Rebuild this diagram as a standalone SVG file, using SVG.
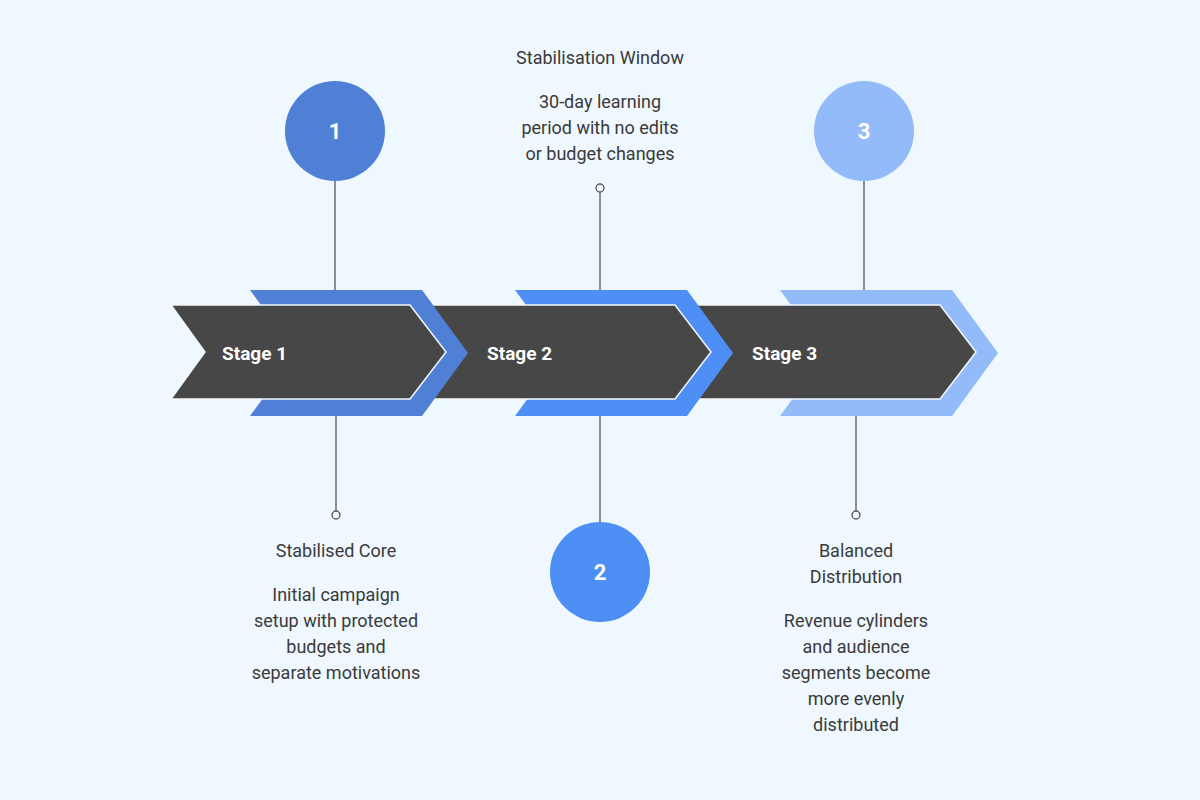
<svg xmlns="http://www.w3.org/2000/svg" width="1200" height="800" viewBox="0 0 1200 800">
<style>
.dk{fill:#474747;stroke:#f2f8fc;stroke-width:1.5}
.ln{stroke:#555;stroke-width:1.3;fill:none}
.dot{fill:#f2f8fc;stroke:#555;stroke-width:1.3}
.st{font-family:Roboto,"Liberation Sans",sans-serif;font-weight:bold;font-size:19px;fill:#fff}
.num{font-family:Roboto,"Liberation Sans",sans-serif;font-weight:bold;font-size:22px;fill:#fff;text-anchor:middle}
.tx{font-family:Roboto,"Liberation Sans",sans-serif;font-size:18px;fill:#3a3a3a;text-anchor:middle}
</style>
<rect width="1200" height="800" fill="#eef8fe"/>
<g id="connectors">
<line class="ln" x1="335" y1="181" x2="335" y2="290"/>
<line class="ln" x1="336" y1="416" x2="336" y2="511"/>
<circle class="dot" cx="336" cy="515" r="4"/>
<line class="ln" x1="600" y1="192" x2="600" y2="290"/>
<circle class="dot" cx="600" cy="188" r="4"/>
<line class="ln" x1="600" y1="416" x2="600" y2="522"/>
<line class="ln" x1="864" y1="181" x2="864" y2="290"/>
<line class="ln" x1="856" y1="416" x2="856" y2="511"/>
<circle class="dot" cx="856" cy="515" r="4"/>
</g>
<g id="stage3">
<polygon fill="#94bbf9" points="780,290 952,290 998,353 952,416 780,416 826,353"/>
<polygon class="dk" points="685,305 940,305 976,352 940,399 685,399"/>
<text class="st" x="752" y="360">Stage 3</text>
</g>
<g id="stage2">
<polygon fill="#4e8ff5" points="515,290 687,290 733,353 687,416 515,416 561,353"/>
<polygon class="dk" points="420,305 675,305 711,352 675,399 420,399"/>
<text class="st" x="487" y="360">Stage 2</text>
</g>
<g id="stage1">
<polygon fill="#4f80d6" points="250,290 422,290 468,353 422,416 250,416 296,353"/>
<polygon class="dk" points="171,305 410,305 446,352 410,399 171,399 205,352"/>
<text class="st" x="222" y="360">Stage 1</text>
</g>
<g id="circle1"><circle cx="335" cy="131" r="50" fill="#4f80d6"/><text class="num" x="335" y="139">1</text></g>
<g id="circle2"><circle cx="600" cy="572" r="50" fill="#4e8ff5"/><text class="num" x="600" y="580">2</text></g>
<g id="circle3"><circle cx="864" cy="131" r="50" fill="#94bbf9"/><text class="num" x="864" y="139">3</text></g>
<g id="label2">
<text class="tx" x="600" y="64">Stabilisation Window</text>
<text class="tx" x="600" y="108">30-day learning</text>
<text class="tx" x="600" y="134">period with no edits</text>
<text class="tx" x="600" y="160">or budget changes</text>
</g>
<g id="label1">
<text class="tx" x="336" y="557">Stabilised Core</text>
<text class="tx" x="336" y="601">Initial campaign</text>
<text class="tx" x="336" y="627">setup with protected</text>
<text class="tx" x="336" y="653">budgets and</text>
<text class="tx" x="336" y="679">separate motivations</text>
</g>
<g id="label3">
<text class="tx" x="856" y="557">Balanced</text>
<text class="tx" x="856" y="583">Distribution</text>
<text class="tx" x="856" y="627">Revenue cylinders</text>
<text class="tx" x="856" y="653">and audience</text>
<text class="tx" x="856" y="679">segments become</text>
<text class="tx" x="856" y="705">more evenly</text>
<text class="tx" x="856" y="731">distributed</text>
</g>
</svg>
